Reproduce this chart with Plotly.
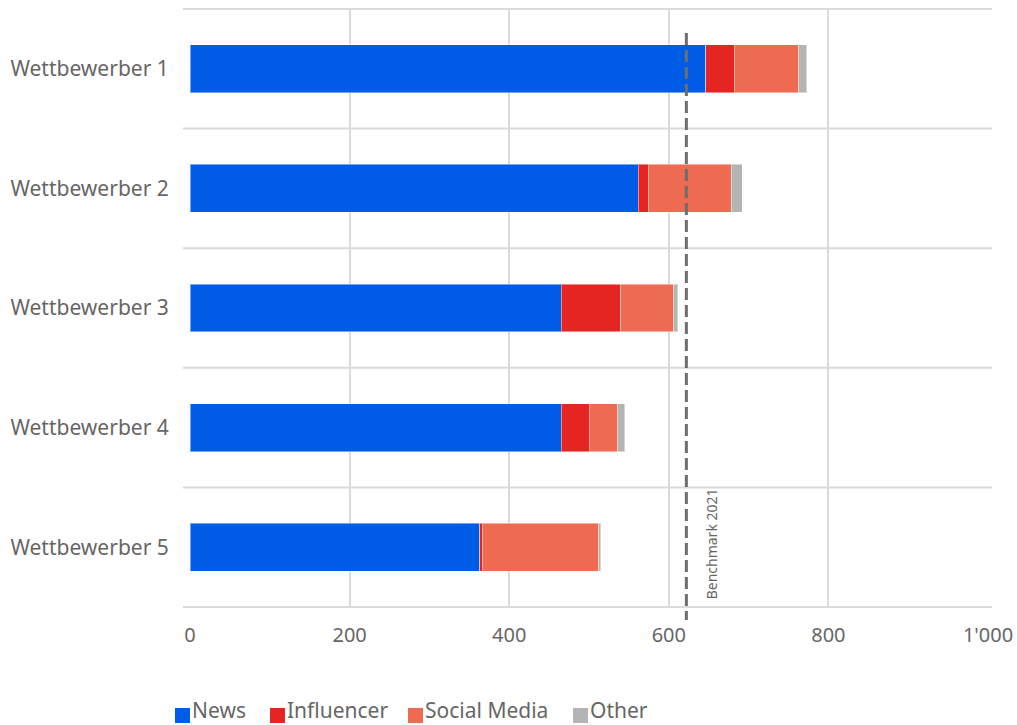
import plotly.graph_objects as go

# Reach per competitor, split by channel
competitors = ["Wettbewerber 1", "Wettbewerber 2", "Wettbewerber 3", "Wettbewerber 4", "Wettbewerber 5"]
news = [646, 562, 465, 465, 363]
influencer = [36, 12, 75, 35, 3]
social_media = [81, 104, 66, 36, 146]
other = [10, 14, 5, 9, 3]

benchmark_value = 622
benchmark_label = "Benchmark 2021"

x_ticks = [0, 200, 400, 600, 800, 1000]

series_names = ["News", "Influencer", "Social Media", "Other"]
series_values = [news, influencer, social_media, other]
series_colors = ["#005CE6", "#E52521", "#EE6A50", "#B4B4B4"]

FONT = "Noto Sans, sans-serif"
TEXT = "#666666"
GRID = "#DADADA"

PLOT_LEFT, PLOT_W = 190, 798
PLOT_BOTTOM, PLOT_H = 608, 600


def px_x(px):
    return (px - PLOT_LEFT) / PLOT_W


def px_y(py):
    return (PLOT_BOTTOM - py) / PLOT_H


fig = go.Figure()
for name, values, color in zip(series_names, series_values, series_colors):
    fig.add_trace(go.Bar(
        name=name,
        y=competitors,
        x=values,
        orientation="h",
        width=0.4,
        marker=dict(color=color, line=dict(color="rgba(255,255,255,0.45)", width=1)),
        showlegend=False,
    ))

# Category separators, extending slightly past the value axis
for i in range(len(competitors) + 1):
    fig.add_shape(
        type="line", xref="paper", yref="y",
        x0=px_x(183), x1=px_x(992), y0=i - 0.5, y1=i - 0.5,
        line=dict(color=GRID, width=2), layer="below",
    )

# Benchmark line
fig.add_shape(
    type="line", xref="x", yref="paper",
    x0=benchmark_value, x1=benchmark_value, y0=px_y(33), y1=px_y(620),
    line=dict(color="#6E6E6E", width=3, dash="12px,5px"),
)
fig.add_annotation(
    x=benchmark_value, xref="x", y=px_y(601), yref="paper",
    text=benchmark_label, textangle=-90, showarrow=False,
    xanchor="left", yanchor="bottom", xshift=14,
    font=dict(family=FONT, size=14, color=TEXT),
)

# Legend row below the chart: colour square followed by the series name
legend_square_px = [175, 270, 408, 573]
for name, color, sx in zip(series_names, series_colors, legend_square_px):
    fig.add_shape(
        type="rect", xref="paper", yref="paper",
        x0=px_x(sx), x1=px_x(sx + 15), y0=px_y(723), y1=px_y(708),
        fillcolor=color, line=dict(width=0),
    )
    fig.add_annotation(
        x=px_x(sx + 15), xref="paper", y=px_y(710), yref="paper",
        text=name, showarrow=False, xanchor="left", yanchor="middle",
        font=dict(family=FONT, size=21, color=TEXT),
    )

fig.update_layout(
    barmode="stack",
    width=1017, height=725,
    margin=dict(l=190, r=29, t=8, b=117, autoexpand=False),
    paper_bgcolor="white", plot_bgcolor="white",
    separators=".'",
    font=dict(family=FONT, size=21, color=TEXT),
    showlegend=False,
)
fig.update_xaxes(
    range=[0, 1000], tickvals=x_ticks, tickformat=",",
    showgrid=True, gridcolor=GRID, gridwidth=2,
    zeroline=False, showline=False,
    ticks="outside", ticklen=9, tickcolor="rgba(0,0,0,0)",
    tickfont=dict(family=FONT, size=20, color=TEXT),
)
fig.update_yaxes(
    autorange="reversed", showgrid=False, zeroline=False, showline=False,
    ticks="outside", ticklen=16, tickcolor="rgba(0,0,0,0)",
    tickfont=dict(family=FONT, size=21, color=TEXT),
)

fig.write_html("out.html")
